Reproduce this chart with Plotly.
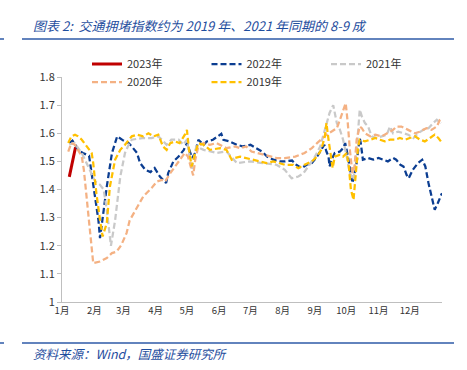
import plotly.graph_objects as go

# ---- data (day of year, index value) ----
month_labels = ["1月", "2月", "3月", "4月", "5月", "6月", "7月", "8月", "9月", "10月", "11月", "12月"]
month_start_days = [0, 31, 59, 90, 120, 151, 181, 212, 243, 273, 304, 334]

d2023 = [7, 9, 11, 13]
v2023 = [1.445, 1.48, 1.52, 1.55]

d2022 = [7, 10, 16, 20, 26, 30, 35, 36.5, 43, 48, 53, 59, 64, 67, 72, 75, 80, 85, 89, 94, 100, 102,
         107, 112, 117, 120, 123, 125, 128, 131, 136, 139, 145, 153, 155, 161, 168, 174, 181, 187,
         192, 197, 203, 209, 214, 221, 225, 230, 235, 240, 245, 249, 252, 254, 256, 257, 259, 262,
         267, 270, 272, 274, 277, 279, 283, 286, 287, 289, 294, 299, 304, 309, 313, 318, 321, 325,
         328, 331, 333, 337, 342, 346, 349, 352, 356, 358, 361, 365]
v2022 = [1.565, 1.574, 1.54, 1.53, 1.52, 1.41, 1.29, 1.227, 1.41, 1.53, 1.589, 1.574, 1.565, 1.553,
         1.53, 1.494, 1.47, 1.462, 1.476, 1.446, 1.423, 1.458, 1.50, 1.517, 1.541, 1.565, 1.535,
         1.512, 1.53, 1.577, 1.559, 1.571, 1.577, 1.598, 1.577, 1.571, 1.559, 1.553, 1.559, 1.547,
         1.535, 1.517, 1.506, 1.50, 1.50, 1.503, 1.488, 1.476, 1.488, 1.494, 1.517, 1.541, 1.559,
         1.535, 1.517, 1.482, 1.506, 1.53, 1.535, 1.547, 1.565, 1.53, 1.458, 1.423, 1.494, 1.583,
         1.565, 1.506, 1.512, 1.506, 1.512, 1.506, 1.50, 1.512, 1.506, 1.488, 1.482, 1.452, 1.44,
         1.47, 1.494, 1.506, 1.482, 1.423, 1.363, 1.328, 1.352, 1.387]

d2021 = [7, 12, 19, 27, 32, 36.5, 40, 43, 47, 51, 56, 60.5, 64, 67, 77, 86, 92.5, 96, 100.5, 105,
         112, 116.5, 120, 124.5, 129, 136, 148.5, 158, 168, 180.5, 196.5, 206, 214, 220.5, 227,
         232, 236.5, 243, 248, 252.5, 257, 260.5, 264, 267, 270, 273.5, 276.5, 280, 283, 286, 288,
         291, 294, 297.5, 302, 307, 312, 315, 318, 323, 328, 332.5, 337.5, 342, 347, 352, 356.5,
         360, 364]
v2021 = [1.56, 1.565, 1.53, 1.47, 1.428, 1.417, 1.40, 1.328, 1.20, 1.29, 1.446, 1.53, 1.559, 1.577,
         1.583, 1.583, 1.589, 1.577, 1.559, 1.577, 1.577, 1.559, 1.577, 1.47, 1.553, 1.541, 1.53,
         1.535, 1.494, 1.50, 1.494, 1.488, 1.47, 1.44, 1.446, 1.458, 1.482, 1.517, 1.553, 1.612,
         1.672, 1.70, 1.636, 1.612, 1.577, 1.517, 1.458, 1.434, 1.541, 1.684, 1.66, 1.636, 1.624,
         1.589, 1.583, 1.589, 1.595, 1.624, 1.60, 1.606, 1.60, 1.595, 1.583, 1.60, 1.612, 1.618,
         1.636, 1.648, 1.636]

d2020 = [6, 9, 12.5, 15.5, 19, 21, 24, 27, 30, 36.5, 43, 48, 52.5, 57, 62, 65, 72, 78, 86, 91, 96,
         99, 104, 108.5, 113, 118, 121, 124.5, 126, 128, 131, 136, 142, 148.5, 158, 166, 171, 177,
         182, 187, 193, 200, 206, 214, 224, 233, 240, 245, 249, 254, 259, 264, 267, 270, 272.5,
         274.5, 276.5, 279, 281, 283, 286, 288, 291, 296, 301, 307, 313, 318, 321.5, 326, 332.5,
         339, 344, 350, 355, 360, 363, 365]
v2020 = [1.535, 1.565, 1.559, 1.541, 1.517, 1.47, 1.351, 1.233, 1.138, 1.144, 1.156, 1.174, 1.179,
         1.203, 1.245, 1.29, 1.334, 1.375, 1.405, 1.428, 1.434, 1.428, 1.458, 1.482, 1.506, 1.53,
         1.517, 1.47, 1.45, 1.506, 1.553, 1.565, 1.559, 1.565, 1.547, 1.553, 1.547, 1.553, 1.535,
         1.53, 1.524, 1.517, 1.512, 1.512, 1.517, 1.53, 1.547, 1.565, 1.577, 1.595, 1.606, 1.618,
         1.648, 1.684, 1.707, 1.636, 1.541, 1.458, 1.482, 1.577, 1.624, 1.618, 1.60, 1.589, 1.595,
         1.589, 1.60, 1.612, 1.624, 1.624, 1.612, 1.60, 1.606, 1.618, 1.612, 1.624, 1.648, 1.654]

d2019 = [6, 9, 12.5, 15.5, 19, 24, 28.5, 30, 33, 36.5, 39, 43, 46, 51, 56, 60.5, 67, 72, 78, 83,
         88, 92.5, 97, 100.5, 104, 108.5, 113, 118, 120, 122, 124.5, 128, 131, 136, 142, 152, 158,
         163, 166, 171, 177, 184, 190, 196.5, 203, 208, 214, 222, 227, 233, 240, 245, 249, 252.5,
         254, 256, 257.5, 260, 262, 267, 270, 273.5, 275.5, 277.5, 280, 282, 284.5, 286, 291, 296,
         301, 305.5, 310, 315, 320, 324.5, 329.5, 334, 339, 344, 348.5, 353.5, 358, 361.5, 364]
v2019 = [1.565, 1.589, 1.595, 1.589, 1.577, 1.553, 1.53, 1.494, 1.387, 1.292, 1.233, 1.28, 1.41,
         1.506, 1.541, 1.559, 1.589, 1.595, 1.589, 1.60, 1.589, 1.595, 1.553, 1.541, 1.565, 1.571,
         1.565, 1.595, 1.612, 1.541, 1.482, 1.53, 1.565, 1.559, 1.541, 1.547, 1.541, 1.506, 1.512,
         1.517, 1.512, 1.506, 1.50, 1.494, 1.50, 1.494, 1.488, 1.488, 1.476, 1.488, 1.50, 1.517,
         1.541, 1.589, 1.636, 1.577, 1.541, 1.476, 1.517, 1.524, 1.517, 1.53, 1.482, 1.40, 1.363,
         1.458, 1.553, 1.577, 1.571, 1.577, 1.583, 1.577, 1.571, 1.577, 1.577, 1.583, 1.577, 1.583,
         1.589, 1.577, 1.571, 1.583, 1.595, 1.583, 1.571]

title_text = "图表 2:  交通拥堵指数约为 2019 年、2021 年同期的 8-9 成"
source_text = "资料来源：Wind，国盛证券研究所"

# ---- figure ----
CJK = "Noto Sans CJK SC"
BLUE_TXT = "#1f4e9e"
DASH = "6px,3px"
W, H = 467, 370
ML, MR, MT, MB = 62, 25, 77, 68
PW, PH = W - ML - MR, H - MT - MB

def px_x(px):
    return (px - ML) / PW

def px_y(py):
    return (H - MB - py) / PH

fig = go.Figure()
series = [
    ("2023年", d2023, v2023, "#c00000", "solid", "legend", 3),
    ("2022年", d2022, v2022, "#0b3d91", DASH, "legend", 2.25),
    ("2021年", d2021, v2021, "#c9c9c9", DASH, "legend", 2.25),
    ("2020年", d2020, v2020, "#f4b183", DASH, "legend2", 2.25),
    ("2019年", d2019, v2019, "#ffc000", DASH, "legend2", 2.25),
]
for name, xs, ys, col, dash, lg, lw in series:
    fig.add_trace(go.Scatter(x=xs, y=ys, name=name, mode="lines", legend=lg,
                             line=dict(color=col, width=lw, dash=dash)))

legend_common = dict(orientation="h", xanchor="left", yanchor="middle",
                     entrywidthmode="pixels", entrywidth=74.5,
                     font=dict(family=CJK, size=11, color="#333333"),
                     bgcolor="rgba(0,0,0,0)", borderwidth=0)

fig.update_layout(
    width=W, height=H,
    margin=dict(l=ML, r=MR, t=MT, b=MB, autoexpand=False),
    paper_bgcolor="white", plot_bgcolor="white",
    font=dict(family=CJK, size=11, color="#333333"),
    showlegend=True,
    legend=dict(x=px_x(87), y=px_y(64), **legend_common),
    legend2=dict(x=px_x(87), y=px_y(82), **legend_common),
    xaxis=dict(range=[0, 365], tickmode="array", tickvals=month_start_days, ticktext=month_labels,
               showgrid=False, zeroline=False, showline=True, linecolor="#bfbfbf", linewidth=1,
               ticks="", tickfont=dict(family=CJK, size=9.5, color="#333333")),
    yaxis=dict(range=[1, 1.8], dtick=0.1, showgrid=False, zeroline=False, showline=True,
               linecolor="#bfbfbf", linewidth=1, ticks="outside", ticklen=4, tickcolor="#bfbfbf",
               tickfont=dict(family=CJK, size=11, color="#333333")),
)

fig.add_annotation(text="<i>" + title_text + "</i>", xref="paper", yref="paper",
                   x=px_x(31), y=px_y(25), xanchor="left", yanchor="middle",
                   showarrow=False, font=dict(family=CJK, size=13, color=BLUE_TXT))
fig.add_annotation(text="<i>" + source_text + "</i>", xref="paper", yref="paper",
                   x=px_x(31), y=px_y(353), xanchor="left", yanchor="middle",
                   showarrow=False, font=dict(family=CJK, size=12.5, color=BLUE_TXT))

LINE = "#2e5aa7"
for yy in (39, 343):
    for x0, x1 in ((0, 4), (22, 454)):
        fig.add_shape(type="line", xref="paper", yref="paper",
                      x0=px_x(x0), x1=px_x(x1), y0=px_y(yy), y1=px_y(yy),
                      line=dict(color=LINE, width=1.5))

fig.write_html("out.html", config={"displayModeBar": False},
               post_script="document.body.style.margin='0';")
